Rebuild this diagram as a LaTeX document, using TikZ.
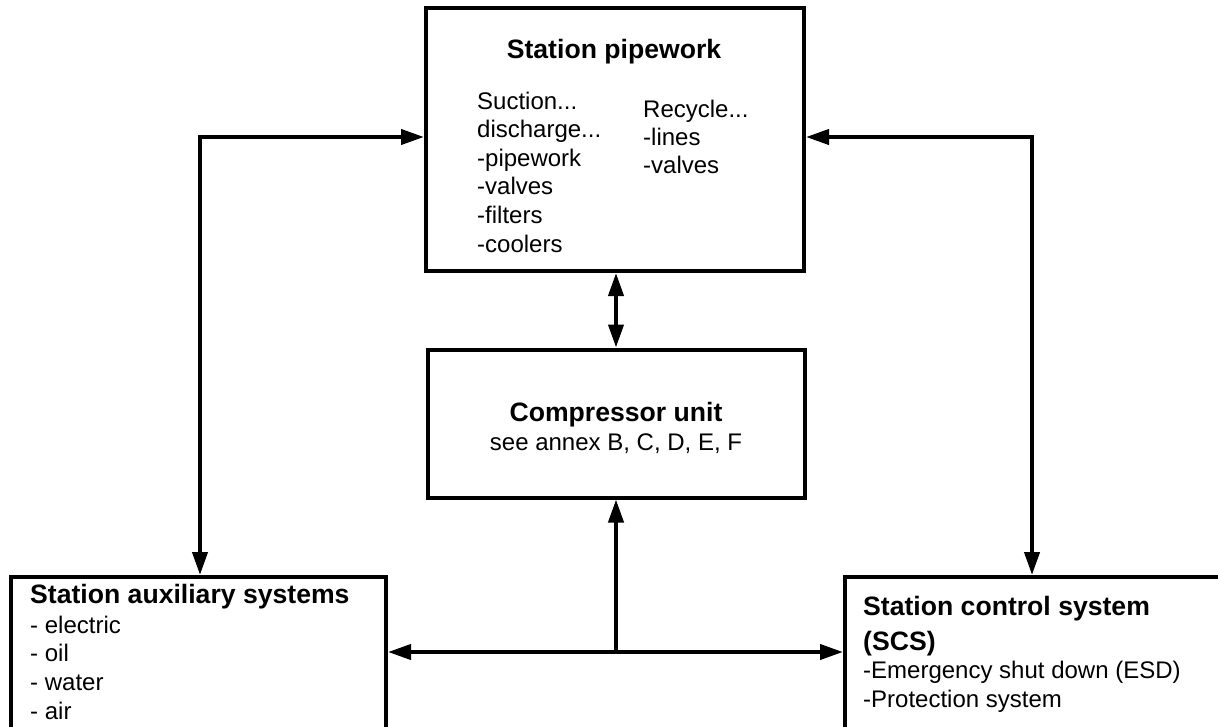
\documentclass[tikz,border=0pt]{standalone}
\usepackage{fontspec}
\setmainfont{Liberation Sans}
\usetikzlibrary{arrows.meta}
\newcommand\trail{...}
\begin{document}
\begin{tikzpicture}[x=1pt,y=-1pt,
  box/.style={draw,line width=4pt,rectangle,inner sep=0pt},
  txt/.style={anchor=base west,inner sep=0pt,font=\fontsize{24}{28}\selectfont},
  ttl/.style={anchor=base west,inner sep=0pt,font=\fontsize{26.6}{32}\selectfont\bfseries},
  tip/.tip={Triangle[length=23pt,width=15pt]},
  link/.style={line width=4pt,tip-tip},
  feed/.style={line width=4pt,-tip},
]
\useasboundingbox (0,0) rectangle (1218,726);
\clip (0,0) rectangle (1218,726);

% blocks
\node[box,minimum width=378pt,minimum height=263pt] (pipework) at (615,139.5) {};
\node[box,minimum width=377pt,minimum height=148pt] (compressor) at (616,423.5) {};
\node[box,anchor=north west,minimum width=375pt,minimum height=240pt] (aux) at (9,575) {};
\node[box,anchor=north west,minimum width=500pt,minimum height=240pt] (scs) at (843,575) {};

% station pipework text
\node[ttl,anchor=base] (pwtitle) at (614,58) {Station pipework};
\foreach \t [count=\i from 0] in {Suction\trail,discharge\trail,-pipework,-valves,-filters,-coolers}
  \node[txt] (pwl\i) at (477,109+28.6*\i) {\t};
\foreach \t [count=\i from 0] in {Recycle\trail,-lines,-valves}
  \node[txt] (pwr\i) at (643,117+28.3*\i) {\t};

% compressor unit text
\node[ttl,anchor=base] (cutitle) at (616,421) {Compressor unit};
\node[txt,anchor=base] (cuannex) at (616,450) {see annex B, C, D, E, F};

% auxiliary systems text
\node[ttl] (auxtitle) at (30,603) {Station auxiliary systems};
\foreach \t [count=\i from 0] in {- electric,- oil,- water,- air}
  \node[txt] (auxl\i) at (30,633+28.9*\i) {\t};

% control system text
\node[ttl] (scst1) at (863,615) {Station control system};
\node[ttl] (scst2) at (863,650) {(SCS)};
\node[txt] (scsl1) at (863,678) {-Emergency shut down (ESD)};
\node[txt] (scsl2) at (863,707) {-Protection system};

% connectors
\coordinate (jl) at (200,137);
\coordinate (jr) at (1032,137);
\coordinate (jb) at (616,652);
\draw[link] (aux.north -| jl) -- (jl) -- (jl -| pipework.west);
\draw[link] (jr -| pipework.east) -- (jr) -- (jr |- scs.north);
\draw[link] (pipework.south -| compressor.north) -- (compressor.north);
\draw[link] (jb -| aux.east) -- (jb -| scs.west);
\draw[feed] (jb) -- (compressor.south);
\end{tikzpicture}
\end{document}
